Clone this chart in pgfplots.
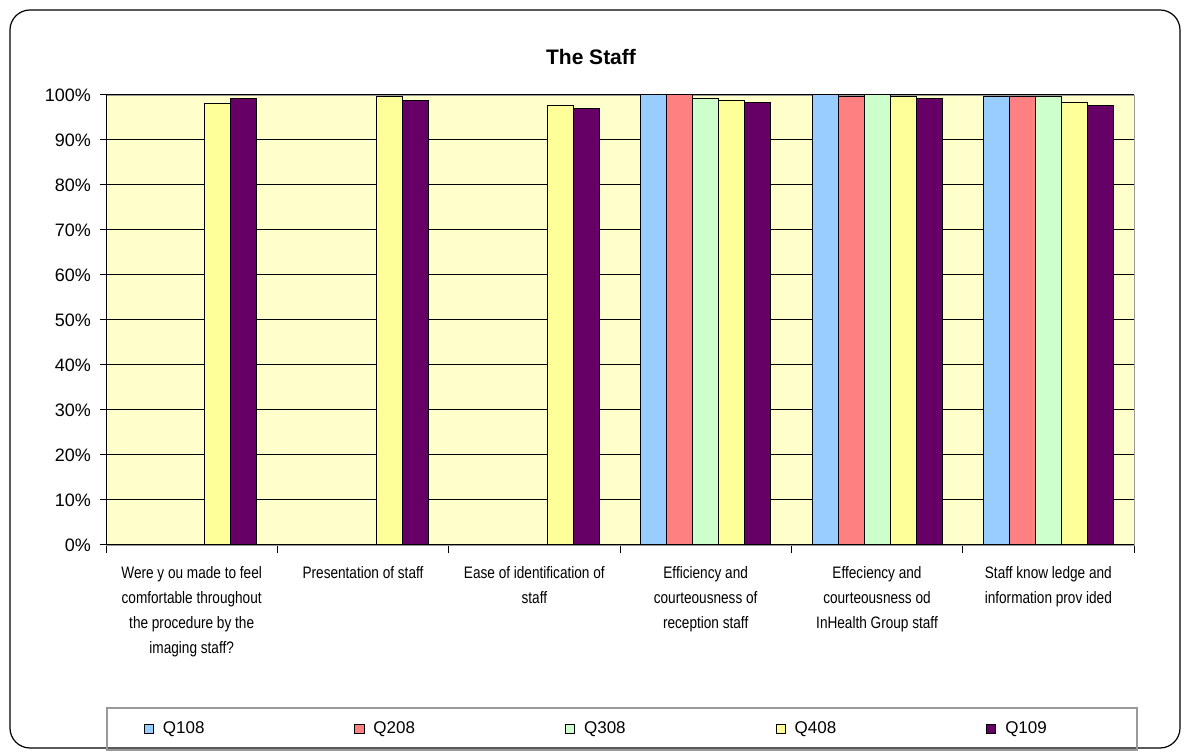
\documentclass[border=0pt]{standalone}
\usepackage{pgfplots}
\pgfplotsset{compat=1.18}
\usepackage{fontspec}
\setmainfont{Liberation Sans}
\newfontfamily\narrow[FakeStretch=0.82]{Liberation Sans}

\definecolor{cQa}{HTML}{99CCFF}
\definecolor{cQb}{HTML}{FF8080}
\definecolor{cQc}{HTML}{CCFFCC}
\definecolor{cQd}{HTML}{FFFF99}
\definecolor{cQe}{HTML}{660066}
\definecolor{plotbg}{HTML}{FFFFCC}

\begin{document}
\begin{tikzpicture}
\useasboundingbox (-53pt,-104.5pt) rectangle (541pt,272.5pt);
\draw[black, line width=0.6pt, rounded corners=10pt] (-48pt,-101.5pt) rectangle (537pt,267.5pt);
\node[font=\bfseries\fontsize{10.5}{12}\selectfont] at (242.5pt,244pt) {The Staff};
\draw[gray!80, line width=0.8pt] (0.5pt,-81.5pt) rectangle (515.5pt,-102.5pt);

\begin{axis}[
scale only axis,
width=514pt, height=225pt,
ybar=0pt, bar width=13pt,
xmin=-0.5, xmax=5.5,
ymin=0, ymax=100,
axis background/.style={fill=plotbg},
axis line style={draw=gray!80},
ymajorgrids,
major grid style={black, line width=0.5pt},
ytick={0,10,...,100},
yticklabels={0\%,10\%,20\%,30\%,40\%,50\%,60\%,70\%,80\%,90\%,100\%},
yticklabel style={font=\fontsize{9}{11}\selectfont, xshift=-1pt},
tick align=outside,
xtick pos=bottom, ytick pos=left,
major tick length=3pt,
y tick style={black, line width=0.5pt},
xtick={0,...,5},
x tick style={draw=none},
minor xtick={-0.5,0.5,...,5.5},
minor x tick style={draw=black, line width=0.5pt},
minor tick length=4pt,
xticklabels={
  {Were y ou made to feel\\comfortable throughout\\the procedure by the\\imaging staff?},
  {Presentation of staff},
  {Ease of identification of\\staff},
  {Efficiency and\\courteousness of\\reception staff},
  {Effeciency and\\courteousness od\\InHealth Group staff},
  {Staff know ledge and\\information prov ided}},
xticklabel style={font=\narrow\fontsize{8.3}{12.5}\selectfont, align=center, anchor=north, yshift=-4pt},
legend columns=5,
legend style={at={(0.478,-0.4089)}, anchor=center, draw=none, fill=none,
  font=\fontsize{8.5}{10}\selectfont,
  /tikz/every odd column/.append style={column sep=2.5pt},
  /tikz/every even column/.append style={column sep=73pt}},
legend image code/.code={\draw[#1, line width=0.4pt] (0pt,-2.3pt) rectangle (4.6pt,2.3pt);},
every axis plot/.append style={draw=black, line width=0.5pt},
]
\addplot[fill=cQa] coordinates {(3,100) (4,100) (5,99.6)};
\addplot[fill=cQb] coordinates {(3,100) (4,99.6) (5,99.6)};
\addplot[fill=cQc] coordinates {(3,99.2) (4,100) (5,99.6)};
\addplot[fill=cQd] coordinates {(0,98.1) (1,99.6) (2,97.7) (3,98.7) (4,99.6) (5,98.4)};
\addplot[fill=cQe] coordinates {(0,99.3) (1,98.8) (2,96.9) (3,98.4) (4,99.2) (5,97.7)};
\legend{Q108,Q208,Q308,Q408,Q109}
\draw[black, line width=0.6pt] (axis cs:-0.5,100) -- (axis cs:-0.5,0) -- (axis cs:5.5,0);
\end{axis}
\end{tikzpicture}
\end{document}
